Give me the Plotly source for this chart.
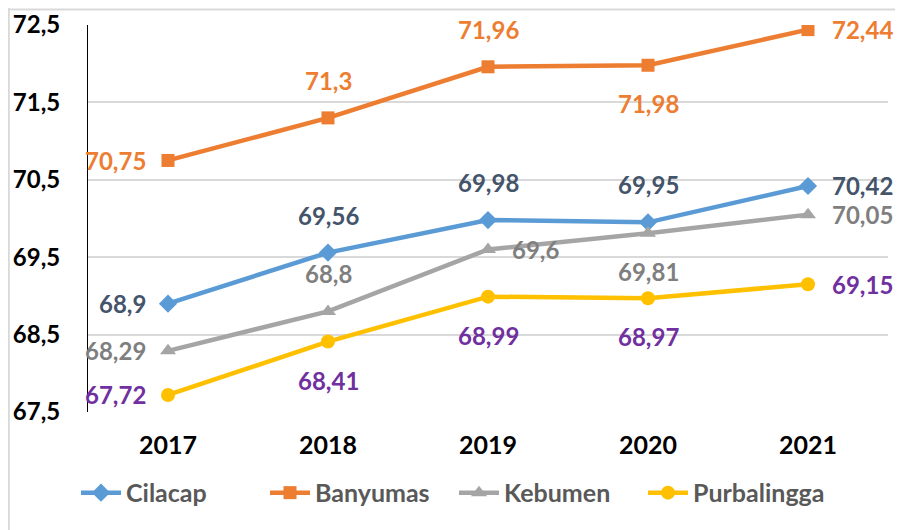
import plotly.graph_objects as go

years = ["2017", "2018", "2019", "2020", "2021"]
cilacap = [68.9, 69.56, 69.98, 69.95, 70.42]
banyumas = [70.75, 71.3, 71.96, 71.98, 72.44]
kebumen = [68.29, 68.8, 69.6, 69.81, 70.05]
purbalingga = [67.72, 68.41, 68.99, 68.97, 69.15]
y_ticks = [67.5, 68.5, 69.5, 70.5, 71.5, 72.5]

FONT = "Lato"

series = [
    dict(name="Cilacap", y=cilacap, color="#5B9BD5", label_color="#44546A",
         symbol="diamond", msize=14, pos=["l", "t", "t", "t", "r"]),
    dict(name="Banyumas", y=banyumas, color="#ED7D31", label_color="#ED7D31",
         symbol="square", msize=13, pos=["l", "t", "t", "b", "r"]),
    dict(name="Kebumen", y=kebumen, color="#A5A5A5", label_color="#7F7F7F",
         symbol="triangle-up", msize=14, pos=["l", "t", "r", "b", "r"]),
    dict(name="Purbalingga", y=purbalingga, color="#FFC000", label_color="#7030A0",
         symbol="circle", msize=14, pos=["l", "b", "b", "b", "r"]),
]

fig = go.Figure()
annotations = []
for s in series:
    fig.add_trace(go.Scatter(
        x=years, y=s["y"], name=s["name"], mode="lines+markers",
        line=dict(color=s["color"], width=4.5),
        marker=dict(symbol=s["symbol"], size=s["msize"], color=s["color"]),
    ))
    for i, (yv, p) in enumerate(zip(s["y"], s["pos"])):
        txt = f"{yv:g}".replace(".", ",")
        a = dict(x=i, y=yv, xref="x", yref="y", text=txt, showarrow=False,
                 font=dict(family=FONT, size=24, color=s["label_color"], weight="bold"))
        if p == "l":
            a.update(xanchor="right", yanchor="middle", xshift=-20)
        elif p == "r":
            a.update(xanchor="left", yanchor="middle", xshift=22)
        elif p == "t":
            a.update(xanchor="center", yanchor="bottom", yshift=21)
        else:
            a.update(xanchor="center", yanchor="top", yshift=-22)
        annotations.append(a)

# page body has an 8px margin; figure is offset by it
fig.update_layout(
    width=895, height=522,
    margin=dict(l=80, r=15, t=17, b=118, autoexpand=False),
    paper_bgcolor="white", plot_bgcolor="white",
    separators=",.",
    showlegend=True,
    legend=dict(orientation="h", x=-0.015, xanchor="left", y=-0.209, yanchor="middle",
                font=dict(family=FONT, size=25, color="#595959", weight="bold"),
                bgcolor="rgba(0,0,0,0)",
                itemwidth=40, traceorder="normal",
                entrywidth=134, entrywidthmode="pixels"),
    annotations=annotations,
    shapes=[
        dict(type="line", xref="paper", yref="paper", x0=-0.099, x1=1.1, y0=1.04, y1=1.04,
             line=dict(color="#D9D9D9", width=2)),
        dict(type="line", xref="paper", yref="paper", x0=-0.099, x1=-0.099, y0=1.054, y1=-0.4,
             line=dict(color="#D9D9D9", width=2)),
    ],
)
fig.update_xaxes(
    type="category", range=[-0.5, 4.5], showgrid=False, showline=False, zeroline=False,
    ticks="", ticklabelstandoff=16, automargin=False,
    tickfont=dict(family=FONT, size=25, color="black", weight="bold"),
)
fig.update_yaxes(
    range=[67.5, 72.5], tickvals=y_ticks, tickformat=".1f",
    showgrid=True, gridcolor="#D9D9D9", gridwidth=1.5,
    showline=True, linecolor="black", linewidth=1, zeroline=False,
    ticks="", ticklabelstandoff=22, automargin=False,
    tickfont=dict(family=FONT, size=24, color="black", weight="bold"),
)

fig.write_html("out.html")
